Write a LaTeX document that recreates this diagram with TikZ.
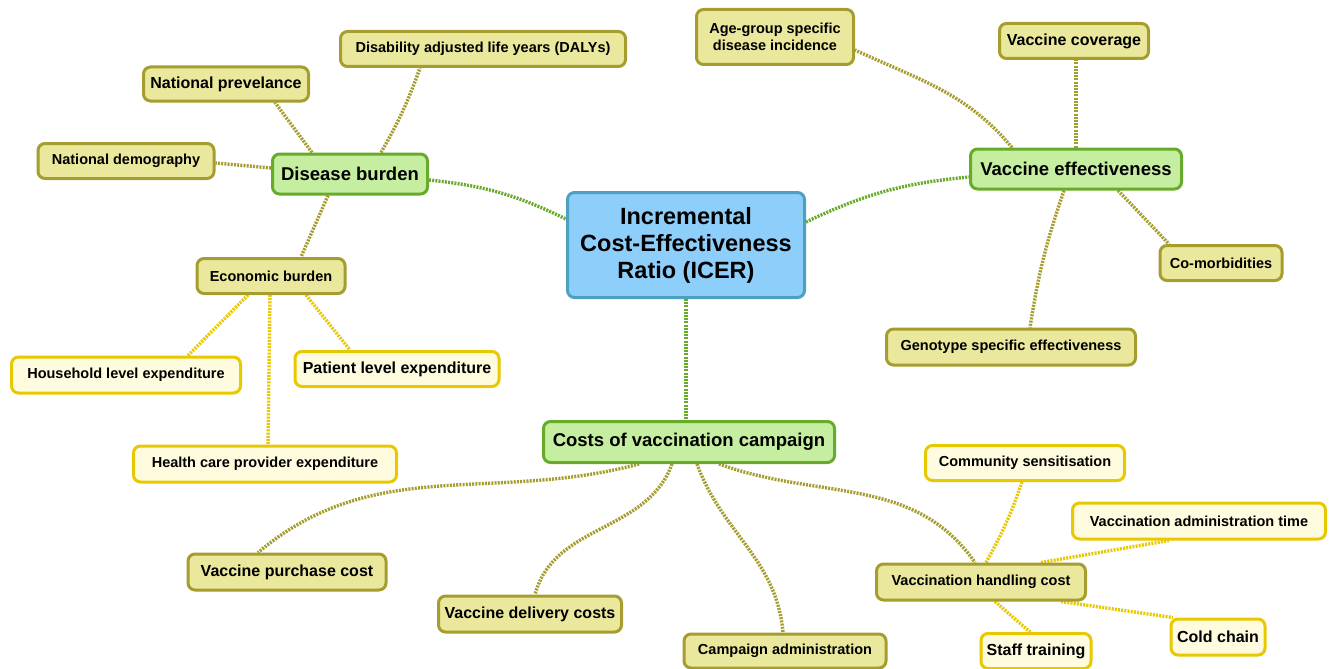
\documentclass[tikz,border=0pt]{standalone}
\usepackage{fontspec}
\setmainfont{Liberation Sans}
\usetikzlibrary{calc,backgrounds}

\definecolor{icerfill}{RGB}{142,206,250}
\definecolor{icerline}{RGB}{78,160,192}
\definecolor{greenfill}{RGB}{197,238,160}
\definecolor{greenline}{RGB}{104,170,42}
\definecolor{olivefill}{RGB}{234,232,156}
\definecolor{oliveline}{RGB}{165,157,45}
\definecolor{yellowfill}{RGB}{255,251,222}
\definecolor{yellowline}{RGB}{232,200,0}

\tikzset{
  box/.style={draw, rounded corners=7pt, line width=3pt, align=center, inner sep=0pt, text=black},
  icerbox/.style={box, draw=icerline, fill=icerfill, font=\fontsize{23.5}{27}\selectfont\bfseries},
  topicbox/.style={box, draw=greenline, fill=greenfill, font=\fontsize{18.5}{22}\selectfont\bfseries},
  factorbox/.style={box, draw=oliveline, fill=olivefill, font=\fontsize{14.5}{17}\selectfont\bfseries},
  detailbox/.style={box, draw=yellowline, fill=yellowfill, font=\fontsize{14.5}{17}\selectfont\bfseries},
  largetext/.style={font=\fontsize{16}{19}\selectfont\bfseries},
  sz/.style 2 args={minimum width=#1pt, minimum height=#2pt},
  link/.style={line width=3.4pt, dash pattern=on 2pt off 1.2pt},
  mainlink/.style={link, draw=greenline},
  factorlink/.style={link, draw=oliveline},
  detaillink/.style={link, draw=yellowline},
}

\begin{document}
\begin{tikzpicture}[x=1pt,y=-1pt]
  \useasboundingbox (0,0) rectangle (1330,669);

  % centre and the three branches
  \node[icerbox, sz={237}{105}] (icer) at (686,245) {Incremental\\Cost-Effectiveness\\Ratio (ICER)};
  \node[topicbox, sz={155}{40}] (db) at (350,174) {Disease burden};
  \node[topicbox, sz={211}{40}] (ve) at (1076,169) {Vaccine effectiveness};
  \node[topicbox, sz={291}{41}] (costs) at (689,442) {Costs of vaccination campaign};

  % disease burden
  \node[factorbox, largetext, sz={165}{34}] (prev) at (226,84) {National prevelance};
  \node[factorbox, sz={285}{35}] (daly) at (483,49) {Disability adjusted life years (DALYs)};
  \node[factorbox, sz={176}{35}] (demo) at (126,161) {National demography};
  \node[factorbox, sz={148}{35}] (econ) at (271,276) {Economic burden};
  \node[detailbox, sz={229}{36}] (house) at (126,375) {Household level expenditure};
  \node[detailbox, largetext, sz={204}{35}] (patient) at (397,369) {Patient level expenditure};
  \node[detailbox, sz={263}{36}] (provider) at (265,464) {Health care provider expenditure};

  % vaccine effectiveness
  \node[factorbox, sz={157}{55}] (age) at (775,37) {Age-group specific\\disease incidence};
  \node[factorbox, largetext, sz={149}{35}] (cover) at (1074,41) {Vaccine coverage};
  \node[factorbox, sz={122}{35}] (comorb) at (1221,263) {Co-morbidities};
  \node[factorbox, sz={249}{36}] (geno) at (1011,347) {Genotype specific effectiveness};

  % costs
  \node[factorbox, largetext, sz={198}{36}] (purchase) at (287,572) {Vaccine purchase cost};
  \node[factorbox, largetext, sz={183}{36}] (delivery) at (530,614) {Vaccine delivery costs};
  \node[factorbox, sz={202}{34}] (admin) at (785,651) {Campaign administration};
  \node[factorbox, sz={209}{36}] (handling) at (981,582) {Vaccination handling cost};
  \node[detailbox, sz={199}{35}] (sensit) at (1025,463) {Community sensitisation};
  \node[detailbox, sz={253}{36}] (admintime) at (1199,521) {Vaccination administration time};
  \node[detailbox, largetext, sz={110}{35}] (staff) at (1036,651) {Staff training};
  \node[detailbox, largetext, sz={94}{36}] (cold) at (1218,637) {Cold chain};

  \begin{scope}[on background layer]
    \draw[mainlink] ([yshift=-6pt]db.east) to[bend left=10] ([yshift=26pt]icer.west);
    \draw[mainlink] ([yshift=23pt]icer.east) to[bend left=10] ([yshift=-8pt]ve.west);
    \draw[mainlink] (icer.south) -- (icer.south |- costs.north);

    \draw[factorlink] ([xshift=-38pt]db.north) -- ([xshift=49pt]prev.south);
    \draw[factorlink] ([xshift=31pt]db.north) to[bend right=5] ([xshift=-63pt]daly.south);
    \draw[factorlink] ([yshift=6pt]db.west) -- ([yshift=-2pt]demo.east);
    \draw[factorlink] ([xshift=-22pt]db.south) -- ([xshift=30pt]econ.north);
    \draw[detaillink] ([xshift=-23pt]econ.south) -- ([xshift=62pt]house.north);
    \draw[detaillink] ([xshift=-1pt]econ.south) -- ([xshift=3pt]provider.north);
    \draw[detaillink] ([xshift=35pt]econ.south) -- ([xshift=-47pt]patient.north);

    \draw[factorlink] ([xshift=-64pt]ve.north) to[out=130,in=-25] ([yshift=-13pt]age.east);
    \draw[factorlink] (ve.north) -- (ve.north |- cover.south);
    \draw[factorlink] ([xshift=42pt]ve.south) -- ([xshift=-52pt]comorb.north);
    \draw[factorlink] ([xshift=-12pt]ve.south) to[bend right=5] ([xshift=19pt]geno.north);

    \draw[factorlink] ([xshift=-50pt]costs.south) to[out=195,in=40] ([xshift=-29pt]purchase.north);
    \draw[factorlink] ([xshift=-17pt]costs.south) to[out=250,in=75] ([xshift=5pt]delivery.north);
    \draw[factorlink] ([xshift=8pt]costs.south) to[out=-70,in=95] ([xshift=-2pt]admin.north);
    \draw[factorlink] ([xshift=30pt]costs.south) to[out=-20,in=125] ([xshift=-6pt]handling.north);
    \draw[detaillink] ([xshift=5pt]handling.north) to[bend right=5] ([xshift=-3pt]sensit.south);
    \draw[detaillink] ([xshift=60pt]handling.north) -- ([xshift=-30pt]admintime.south);
    \draw[detaillink] ([xshift=14pt]handling.south) -- ([xshift=-6pt]staff.north);
    \draw[detaillink] ([xshift=80pt]handling.south) -- ([xshift=-45pt]cold.north);
  \end{scope}
\end{tikzpicture}
\end{document}
